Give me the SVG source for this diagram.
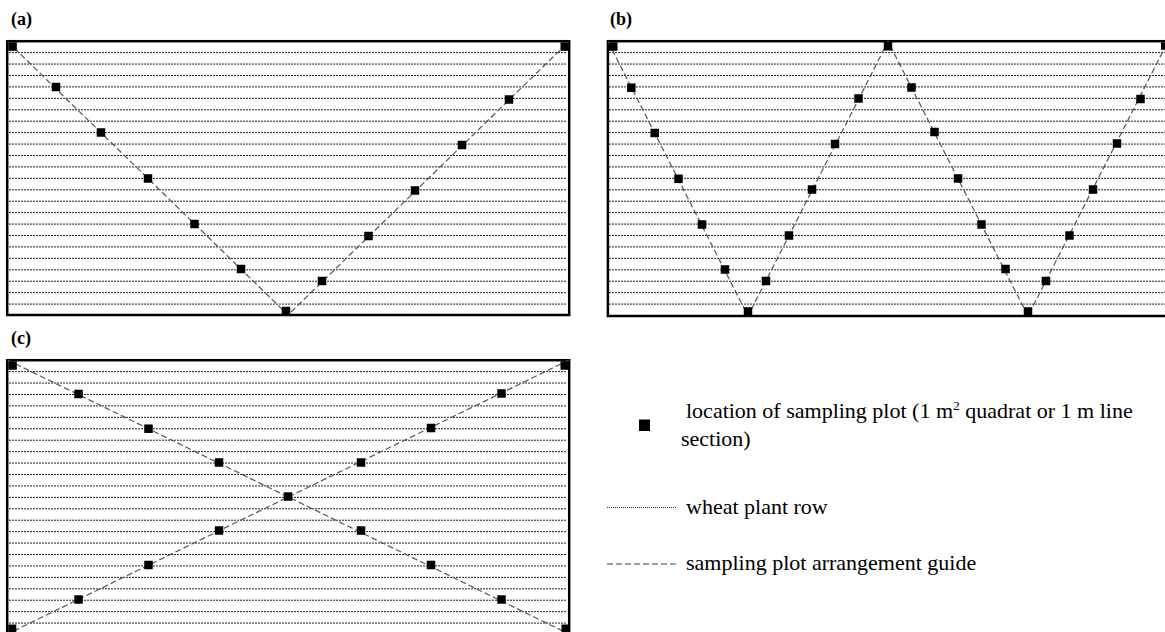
<svg xmlns="http://www.w3.org/2000/svg" xmlns:xlink="http://www.w3.org/1999/xlink" width="1165" height="632" viewBox="0 0 1165 632">
<style>
.frame{fill:none;stroke:#000;stroke-width:2.5}
.row{fill:none;stroke:#222;stroke-width:1;stroke-dasharray:2 1}
.guide{fill:none;stroke:#555;stroke-width:1.2;stroke-dasharray:6 3}
.sq{fill:#000}
.lbl{font-family:"Liberation Serif","Times New Roman",serif;font-weight:bold;font-size:18px;fill:#000}
.leg{font-family:"Liberation Serif","Times New Roman",serif;font-size:22px;fill:#000}
</style>
<defs>
<path id="rows" class="row" d="M0 11.43h558M0 22.86h558M0 34.29h558M0 45.72h558M0 57.15h558M0 68.58h558M0 80.01h558M0 91.44h558M0 102.87h558M0 114.3h558M0 125.73h558M0 137.16h558M0 148.59h558M0 160.02h558M0 171.45h558M0 182.88h558M0 194.31h558M0 205.74h558M0 217.17h558M0 228.6h558M0 240.03h558M0 251.46h558M0 262.89h558"/>
<rect id="s" x="-4.25" y="-4.25" width="8.5" height="8.5"/>
</defs>

<text class="lbl" x="11" y="25">(a)</text>
<text class="lbl" x="610" y="25">(b)</text>
<text class="lbl" x="11" y="344">(c)</text>

<g id="panel-a">
<use xlink:href="#rows" transform="translate(9,41.2)"/>
<rect class="frame" x="7.2" y="41.2" width="562" height="273.8"/>
</g>
<g id="panel-b">
<use xlink:href="#rows" transform="translate(609,41.2)"/>
<rect class="frame" x="607.9" y="41.2" width="562" height="274.8"/>
</g>
<g id="panel-c">
<use xlink:href="#rows" transform="translate(9,360.2)"/>
<rect class="frame" x="7.2" y="360.2" width="562" height="274"/>
</g>

<g id="connectors">
<path class="guide" d="M7.5 41.5L288 315L569 41.5"/>
<path class="guide" d="M608 41.5L748 316L888 41.5L1028 316L1168 41.5"/>
<path class="guide" d="M7.5 360L569 634M569 360L7.5 634"/>
</g>

<g id="plots-a" class="sq">
<rect x="8.3" y="42.3" width="8.5" height="8.5"/>
<use xlink:href="#s" x="56" y="87"/>
<use xlink:href="#s" x="101" y="132.5"/>
<use xlink:href="#s" x="148" y="178.5"/>
<use xlink:href="#s" x="194.5" y="224"/>
<use xlink:href="#s" x="241" y="269"/>
<use xlink:href="#s" x="286" y="311"/>
<use xlink:href="#s" x="322" y="281"/>
<use xlink:href="#s" x="368.5" y="236"/>
<use xlink:href="#s" x="415" y="190.5"/>
<use xlink:href="#s" x="462" y="145"/>
<use xlink:href="#s" x="509" y="99.5"/>
<rect x="560.5" y="42.3" width="8.5" height="8.5"/>
</g>

<g id="plots-b" class="sq">
<rect x="609" y="42.3" width="8.5" height="8.5"/>
<use xlink:href="#s" x="631.3" y="87.7"/>
<use xlink:href="#s" x="654.7" y="133"/>
<use xlink:href="#s" x="678.5" y="178.8"/>
<use xlink:href="#s" x="702" y="224.5"/>
<use xlink:href="#s" x="725" y="269.5"/>
<use xlink:href="#s" x="748" y="311.5"/>
<use xlink:href="#s" x="766" y="281"/>
<use xlink:href="#s" x="789" y="235.5"/>
<use xlink:href="#s" x="812" y="189.5"/>
<use xlink:href="#s" x="835" y="144"/>
<use xlink:href="#s" x="858.5" y="98.5"/>
<use xlink:href="#s" x="888" y="46.3"/>
<use xlink:href="#s" x="911.5" y="87.5"/>
<use xlink:href="#s" x="934.5" y="132"/>
<use xlink:href="#s" x="958" y="178.5"/>
<use xlink:href="#s" x="981.5" y="224.5"/>
<use xlink:href="#s" x="1005.5" y="269"/>
<use xlink:href="#s" x="1028" y="311.5"/>
<use xlink:href="#s" x="1046" y="281"/>
<use xlink:href="#s" x="1069.5" y="235.5"/>
<use xlink:href="#s" x="1093" y="189.5"/>
<use xlink:href="#s" x="1117" y="143.5"/>
<use xlink:href="#s" x="1140.5" y="99"/>
<rect x="1161" y="42.3" width="8.5" height="7.5"/>
</g>

<g id="plots-c" class="sq">
<rect x="8.3" y="361.3" width="8.5" height="8.5"/>
<use xlink:href="#s" x="78.5" y="394"/>
<use xlink:href="#s" x="148.5" y="428.7"/>
<use xlink:href="#s" x="219" y="462.5"/>
<use xlink:href="#s" x="288" y="496.5"/>
<use xlink:href="#s" x="361" y="530.5"/>
<use xlink:href="#s" x="431" y="565"/>
<use xlink:href="#s" x="501.5" y="599.5"/>
<rect x="561.5" y="624.5" width="8" height="8"/>
<rect x="560.5" y="361.3" width="8.5" height="8.5"/>
<use xlink:href="#s" x="501.5" y="393.5"/>
<use xlink:href="#s" x="431" y="428"/>
<use xlink:href="#s" x="361" y="462.5"/>
<use xlink:href="#s" x="219" y="530.5"/>
<use xlink:href="#s" x="148.5" y="565"/>
<use xlink:href="#s" x="78.5" y="599.5"/>
<rect x="8.3" y="624.5" width="8" height="8"/>
</g>

<g id="legend-plot">
<rect class="sq" x="639" y="419.5" width="11" height="11.5"/>
<text class="leg" x="686" y="418">location of sampling plot (1 m<tspan font-size="13.5" dy="-8">2</tspan><tspan dy="8"> quadrat or 1 m line</tspan></text>
<text class="leg" x="681" y="446">section)</text>
</g>
<g id="legend-row">
<path d="M607 507.5H677" fill="none" stroke="#333" stroke-width="1" stroke-dasharray="1 1"/>
<text class="leg" x="686" y="513.5">wheat plant row</text>
</g>
<g id="legend-guide">
<path d="M607 564H677" fill="none" stroke="#444" stroke-width="1.2" stroke-dasharray="6 3"/>
<text class="leg" x="686" y="570">sampling plot arrangement guide</text>
</g>
</svg>
